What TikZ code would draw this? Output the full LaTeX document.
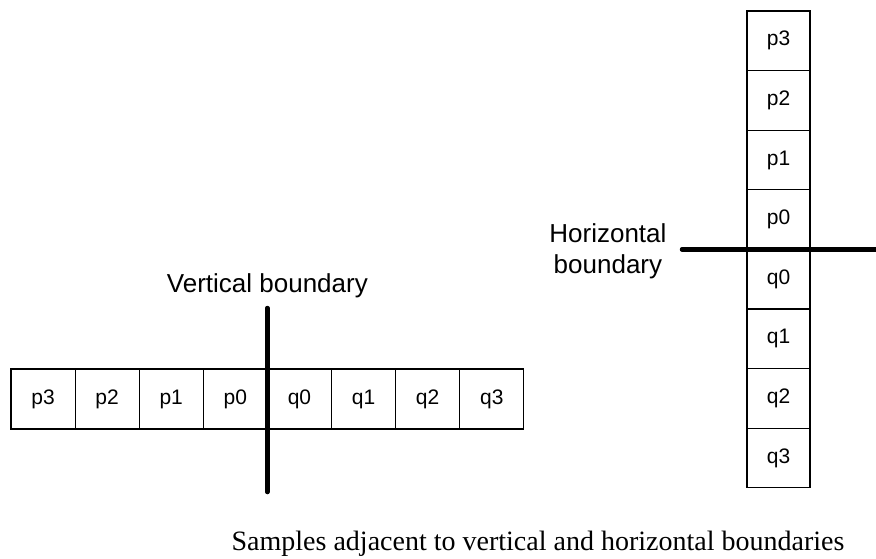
\documentclass[tikz,border=0pt]{standalone}
\usepackage{fontspec}
\setmainfont{Liberation Serif}
\newfontfamily\cellfont{Liberation Sans}
\usetikzlibrary{positioning}

\begin{document}
\begin{tikzpicture}[x=1pt,y=-1pt,
    sample/.style={draw,line width=1.2pt,inner sep=0pt,outer sep=0pt,
      minimum width=64.1pt,minimum height=60pt,font=\cellfont\fontsize{21}{24}\selectfont},
    vsample/.style={sample,minimum width=63pt,minimum height=59.6pt},
    edgeline/.style={line width=4.5pt,line cap=round},
    label/.style={font=\cellfont\fontsize{26}{31}\selectfont}]
      \useasboundingbox (0,0) rectangle (876,558);
      % row across the vertical edge
      \node (rp3) [sample] at (43.05,399) {p3};
      \node (rp2) [sample,right=0pt of rp3] {p2};
      \node (rp1) [sample,right=0pt of rp2] {p1};
      \node (rp0) [sample,right=0pt of rp1] {p0};
      \node (rq0) [sample,right=0pt of rp0] {q0};
      \node (rq1) [sample,right=0pt of rq0] {q1};
      \node (rq2) [sample,right=0pt of rq1] {q2};
      \node (rq3) [sample,right=0pt of rq2] {q3};
      % column across the horizontal edge
      \node (cp3) [vsample] at (778.5,40.8) {p3};
      \node (cp2) [vsample,below=0pt of cp3] {p2};
      \node (cp1) [vsample,below=0pt of cp2] {p1};
      \node (cp0) [vsample,below=0pt of cp1] {p0};
      \node (cq0) [vsample,below=0pt of cp0] {q0};
      \node (cq1) [vsample,below=0pt of cq0] {q1};
      \node (cq2) [vsample,below=0pt of cq1] {q2};
      \node (cq3) [vsample,below=0pt of cq2] {q3};
      % vertical boundary
      \coordinate (vtop) at ([yshift=61pt]rp0.north east);
      \coordinate (vbot) at ([yshift=-63pt]rp0.south east);
      \draw[edgeline] (vtop) -- (vbot);
      \node (vlabel) [label,anchor=base] at ([yshift=16pt]vtop) {Vertical boundary};
      % horizontal boundary (base = last line)
      \coordinate (hleft) at ([xshift=-65pt]cp0.south west);
      \coordinate (hright) at ([xshift=70pt]cp0.south east);
      \draw[edgeline] (hleft) -- (hright);
      \node (hlabel) [label,align=center,anchor=base east] at ([xshift=-12pt,yshift=-24pt]hleft)
        {Horizontal\\boundary};
      % caption
      \node (caption) [font=\fontsize{28}{32}\selectfont,anchor=base] at (538,550)
        {Samples adjacent to vertical and horizontal boundaries};
\end{tikzpicture}
\end{document}
